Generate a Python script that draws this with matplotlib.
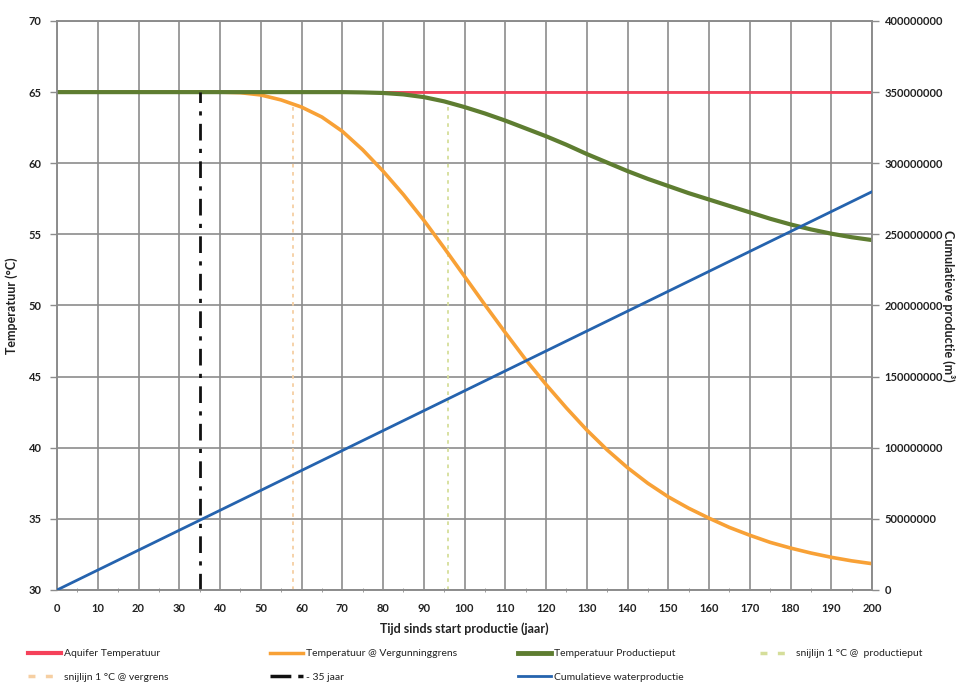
import matplotlib
matplotlib.use("Agg")
import matplotlib.pyplot as plt
from matplotlib.lines import Line2D
from matplotlib.ticker import MultipleLocator

plt.rcParams['font.family'] = ['Lato', 'DejaVu Sans']

# Time axis (years since start of production)
years = [0, 5, 10, 15, 20, 25, 30, 35, 40, 45, 50, 55, 60, 65, 70, 75, 80, 85, 90, 95,
         100, 105, 110, 115, 120, 125, 130, 135, 140, 145, 150, 155, 160, 165, 170, 175,
         180, 185, 190, 195, 200]

aquifer_temp = [65.0] * 41

temp_vergunninggrens = [65.0, 65.0, 65.0, 65.0, 65.0, 65.0, 65.0, 65.0, 65.0, 64.96,
                        64.8, 64.45, 63.95, 63.25, 62.25, 60.95, 59.45, 57.8, 56.0, 54.05,
                        52.05, 50.05, 48.1, 46.2, 44.45, 42.8, 41.25, 39.85, 38.6, 37.5,
                        36.55, 35.75, 35.05, 34.4, 33.85, 33.35, 32.95, 32.6, 32.3, 32.05, 31.85]

temp_productieput = [65.0, 65.0, 65.0, 65.0, 65.0, 65.0, 65.0, 65.0, 65.0, 65.0,
                     65.0, 65.0, 65.0, 65.0, 65.0, 64.98, 64.94, 64.84, 64.65, 64.35,
                     63.95, 63.5, 63.0, 62.45, 61.9, 61.3, 60.65, 60.05, 59.45, 58.9,
                     58.4, 57.9, 57.45, 57.0, 56.55, 56.1, 55.7, 55.35, 55.05, 54.8, 54.6]

# Cumulative water production (m3)
cum_years = [0, 50, 100, 150, 200]
cum_production = [0, 70e6, 140e6, 210e6, 280e6]

# Crossing lines (1 degC drop) and the 35-year marker
snijlijn_productieput_x = 96
snijlijn_vergrens_x = 58
snijlijn_temp = [30, 64]
marker_35_x = 35
marker_35_temp = [30, 65]

x_ticks = list(range(0, 201, 10))
left_ticks = [30, 35, 40, 45, 50, 55, 60, 65, 70]
right_ticks = [0, 50000000, 100000000, 150000000, 200000000, 250000000,
               300000000, 350000000, 400000000]

c_red = '#F5415A'
c_orange = '#F8A136'
c_green = '#5E7D31'
c_blue = '#2563AE'
c_snij_prod = '#D5DE9A'
c_snij_verg = '#F6CFA2'
c_grid = '#8C8C8C'
c_text = '#222222'

W, H = 961, 685
fig = plt.figure(figsize=(W / 100, H / 100), dpi=100)
ax = fig.add_axes([57 / W, 1 - 590 / H, (872 - 57) / W, (590 - 21) / H])
ax2 = ax.twinx()

ax.plot(years, aquifer_temp, color=c_red, lw=2.0, zorder=3)
ax.plot([snijlijn_vergrens_x] * 2, snijlijn_temp, color=c_snij_verg, lw=1.3,
        ls=(0, (2, 2.5)), zorder=2)
ax.plot([snijlijn_productieput_x] * 2, snijlijn_temp, color=c_snij_prod, lw=1.3,
        ls=(0, (2, 2.5)), zorder=2)
ax.plot(years, temp_vergunninggrens, color=c_orange, lw=2.6, zorder=4,
        solid_joinstyle='round')
ax.plot(years, temp_productieput, color=c_green, lw=3.0, zorder=5,
        solid_joinstyle='round')
ax.plot([marker_35_x] * 2, marker_35_temp, color='#111111', lw=2.0,
        ls=(0, (6, 3, 1.5, 3)), zorder=6)

ax2.plot(cum_years, cum_production, color=c_blue, lw=2.0, zorder=3)

ax.set_xlim(0, 200)
ax.set_ylim(30, 70)
ax2.set_ylim(0, 400000000)
ax.set_xticks(x_ticks)
ax.xaxis.set_minor_locator(MultipleLocator(5))
ax.set_yticks(left_ticks)
ax2.set_yticks(right_ticks)
ax2.set_yticklabels([str(v) for v in right_ticks])

ax.grid(True, which='major', color=c_grid, lw=1.2)
ax.set_axisbelow(True)
for a in (ax, ax2):
    for s in a.spines.values():
        s.set_color(c_grid)
        s.set_linewidth(1.2)
    a.tick_params(colors=c_grid, labelcolor=c_text, labelsize=8, width=1, length=5)
ax.tick_params(axis='x', which='minor', length=3, color=c_grid, direction='inout')
ax.tick_params(axis='x', which='major', length=0, pad=9)
ax.tick_params(axis='y', pad=6)
ax2.tick_params(axis='y', pad=4)
for lbl in ax.get_xticklabels() + ax.get_yticklabels() + ax2.get_yticklabels():
    lbl.set_fontweight('bold')

ax.set_xlabel('Tijd sinds start productie (jaar)', fontsize=9, fontweight='bold',
              color=c_text, labelpad=6)
ax.set_ylabel('Temperatuur (°C)', fontsize=9, fontweight='bold', color=c_text)
ax.yaxis.set_label_coords((18 - 57) / 815, 0.5)
ax2.set_ylabel('Cumulatieve productie (m³)', fontsize=9, fontweight='bold',
               color=c_text, rotation=270, va='center')
ax2.yaxis.set_label_coords((949 - 57) / 815, 0.5)

# Legend laid out as four columns, filled row by row
legend_cols = [
    ([Line2D([], [], color=c_red, lw=3), Line2D([], [], color=c_snij_verg, lw=2.5, ls=(0, (2, 3)))],
     ['Aquifer Temperatuur', 'snijlijn 1 °C @ vergrens'], 28),
    ([Line2D([], [], color=c_orange, lw=2.5), Line2D([], [], color='#111111', lw=2.5, ls=(0, (6, 2, 1.5, 2)))],
     ['Temperatuur @ Vergunninggrens', '- 35 jaar'], 270),
    ([Line2D([], [], color=c_green, lw=3.5), Line2D([], [], color=c_blue, lw=2)],
     ['Temperatuur Productieput', 'Cumulatieve waterproductie'], 518),
    ([Line2D([], [], color=c_snij_prod, lw=2.5, ls=(0, (2, 3)))],
     ['snijlijn 1 °C @  productieput'], 760),
]
for hs, ls_, xpx in legend_cols:
    leg = fig.legend(hs, ls_, loc='upper left', bbox_to_anchor=(xpx / W, 1 - 649 / H),
                     frameon=False, fontsize=7.5, handlelength=3.2, handletextpad=0.25,
                     labelspacing=1.35, borderpad=0, borderaxespad=0)
    for t in leg.get_texts():
        t.set_color(c_text)

fig.savefig('out.png', dpi=100, facecolor='white')
